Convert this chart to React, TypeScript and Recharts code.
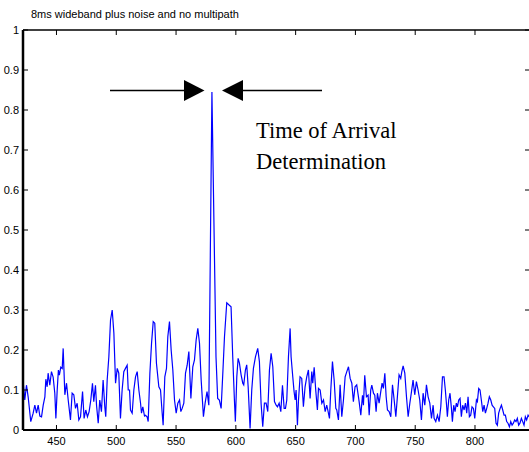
import React from 'react';
import { LineChart, Line, XAxis, YAxis } from 'recharts';

const title = '8ms wideband plus noise and no multipath';
const annotationLines = ['Time of Arrival', 'Determination'];

const xTicks = [450, 500, 550, 600, 650, 700, 750, 800];
const yTicks = [0, 0.1, 0.2, 0.3, 0.4, 0.5, 0.6, 0.7, 0.8, 0.9, 1];
const yTickLabels = ['0', '0.1', '0.2', '0.3', '0.4', '0.5', '0.6', '0.7', '0.8', '0.9', '1'];
const xDomain = [422, 846];
const yDomain = [0, 1];

const xs = [
  422.1, 423.5, 424.9, 426.3, 428.5, 430.5, 431.9, 433.3, 434.7, 436.1, 437.5, 438.9, 440.3, 441.1, 442.2, 443.0,
  444.4, 445.8, 447.2, 448.6, 449.5, 450.6, 451.6, 452.4, 453.6, 454.8, 455.6, 457.0, 458.4, 459.8, 461.7, 463.1,
  464.5, 465.9, 467.3, 468.7, 470.1, 471.8, 473.1, 474.5, 475.9, 477.3, 478.7, 480.1, 481.2, 482.6, 483.5, 484.9,
  486.2, 487.6, 489.0, 490.4, 491.2, 492.4, 493.8, 495.2, 496.6, 498.0, 499.4, 500.8, 502.1, 503.5, 504.9, 506.3,
  507.7, 509.1, 510.0, 511.1, 511.9, 513.3, 514.7, 516.1, 517.5, 518.9, 520.3, 521.1, 522.2, 523.6, 524.4, 525.8,
  526.7, 528.1, 529.5, 530.9, 532.2, 533.6, 535.6, 537.0, 538.4, 539.2, 540.6, 542.0, 543.1, 544.5, 545.9, 547.3,
  548.7, 550.1, 551.5, 552.9, 554.0, 555.1, 556.5, 557.9, 559.3, 560.7, 562.4, 564.0, 565.4, 566.8, 568.2, 569.6,
  571.0, 572.9, 574.3, 575.9, 577.4, 580.0, 583.4, 584.8, 586.2, 587.7, 589.1, 590.5, 592.4, 594.1, 596.0, 597.4,
  598.8, 599.6, 600.8, 601.9, 603.0, 604.4, 605.8, 606.6, 608.0, 609.1, 610.3, 611.9, 613.3, 614.7, 616.4, 618.3,
  619.7, 621.1, 622.5, 623.9, 625.3, 626.7, 628.1, 629.5, 630.9, 632.3, 633.7, 634.8, 636.2, 637.6, 639.0, 640.4,
  641.5, 642.6, 644.0, 645.4, 646.2, 647.6, 648.7, 649.6, 650.4, 651.5, 652.4, 653.7, 655.1, 656.5, 657.9, 659.3,
  660.7, 662.1, 663.5, 664.3, 665.5, 666.8, 668.2, 669.1, 670.5, 671.9, 673.3, 674.7, 676.0, 676.9, 678.3, 679.4,
  680.8, 682.2, 683.6, 684.4, 685.8, 687.2, 688.6, 690.0, 691.4, 692.8, 694.2, 695.6, 697.0, 698.3, 699.7, 701.1,
  703.1, 704.5, 705.9, 706.7, 707.8, 709.2, 710.6, 711.5, 712.8, 713.7, 715.1, 716.2, 717.3, 718.4, 719.8, 721.2,
  722.3, 723.4, 724.6, 725.7, 726.8, 728.2, 729.6, 731.0, 732.4, 733.8, 735.1, 736.5, 737.9, 738.8, 739.9, 741.3,
  742.7, 744.1, 745.5, 746.9, 748.2, 749.6, 751.0, 752.4, 753.8, 755.2, 756.6, 758.0, 759.4, 760.8, 762.2, 763.6,
  765.0, 765.8, 767.2, 768.6, 770.0, 771.4, 772.8, 774.1, 775.2, 776.1, 776.9, 778.0, 779.1, 780.3, 781.1, 782.2,
  783.3, 784.4, 785.3, 786.4, 787.5, 788.6, 789.7, 790.9, 792.0, 793.1, 794.2, 795.3, 796.4, 797.5, 798.7, 799.8,
  801.2, 802.0, 803.1, 804.2, 805.3, 806.5, 807.6, 808.7, 809.8, 810.9, 812.0, 813.2, 814.3, 815.4, 816.5, 817.6,
  818.7, 819.8, 821.0, 822.1, 823.2, 824.3, 825.4, 826.5, 827.6, 828.8, 829.9, 831.0, 832.1, 833.2, 834.3, 835.4,
  836.5, 837.6, 838.8, 839.9, 841.0, 842.1, 843.2, 844.4, 846.0,
];

const ys = [
  0.121, 0.075, 0.112, 0.083, 0.021, 0.042, 0.062, 0.042, 0.062, 0.035, 0.033, 0.062, 0.083, 0.127, 0.108, 0.142,
  0.112, 0.146, 0.132, 0.092, 0.029, 0.1, 0.15, 0.137, 0.157, 0.154, 0.204, 0.088, 0.117, 0.075, 0.025, 0.092,
  0.088, 0.054, 0.067, 0.025, 0.033, 0.096, 0.029, 0.05, 0.033, 0.046, 0.075, 0.117, 0.071, 0.112, 0.062, 0.017,
  0.075, 0.046, 0.125, 0.058, 0.033, 0.125, 0.183, 0.275, 0.3, 0.242, 0.117, 0.154, 0.142, 0.029, 0.1, 0.146,
  0.154, 0.162, 0.1, 0.1, 0.05, 0.042, 0.1, 0.133, 0.146, 0.1, 0.067, 0.042, 0.058, 0.035, 0.037, 0.033,
  0.021, 0.142, 0.217, 0.271, 0.267, 0.167, 0.108, 0.1, 0.042, 0.012, 0.133, 0.154, 0.233, 0.271, 0.2, 0.15,
  0.075, 0.042, 0.067, 0.075, 0.046, 0.054, 0.067, 0.142, 0.162, 0.196, 0.079, 0.158, 0.175, 0.225, 0.254, 0.217,
  0.125, 0.033, 0.067, 0.096, 0.062, 0.845, 0.183, 0.079, 0.075, 0.054, 0.142, 0.233, 0.318, 0.313, 0.308, 0.183,
  0.075, 0.021, 0.133, 0.179, 0.167, 0.138, 0.117, 0.113, 0.15, 0.163, 0.108, 0.004, 0.1, 0.154, 0.183, 0.204,
  0.171, 0.067, 0.008, 0.067, 0.067, 0.046, 0.15, 0.192, 0.158, 0.071, 0.062, 0.058, 0.067, 0.046, 0.112, 0.054,
  0.054, 0.075, 0.183, 0.254, 0.183, 0.133, 0.096, 0.075, 0.1, 0.012, 0.075, 0.133, 0.129, 0.058, 0.108, 0.133,
  0.15, 0.079, 0.146, 0.117, 0.157, 0.1, 0.05, 0.104, 0.1, 0.067, 0.075, 0.046, 0.062, 0.05, 0.029, 0.1,
  0.171, 0.125, 0.054, 0.05, 0.025, 0.113, 0.033, 0.075, 0.133, 0.146, 0.158, 0.129, 0.117, 0.071, 0.108, 0.113,
  0.071, 0.037, 0.087, 0.062, 0.137, 0.083, 0.087, 0.037, 0.1, 0.112, 0.092, 0.087, 0.046, 0.092, 0.067, 0.096,
  0.117, 0.104, 0.142, 0.083, 0.05, 0.046, 0.033, 0.113, 0.075, 0.033, 0.083, 0.138, 0.129, 0.146, 0.16, 0.142,
  0.083, 0.033, 0.067, 0.096, 0.125, 0.088, 0.121, 0.1, 0.075, 0.025, 0.092, 0.062, 0.113, 0.083, 0.067, 0.029,
  0.062, 0.029, 0.021, 0.037, 0.021, 0.058, 0.133, 0.133, 0.1, 0.067, 0.033, 0.075, 0.092, 0.054, 0.021, 0.062,
  0.046, 0.067, 0.058, 0.075, 0.079, 0.033, 0.062, 0.05, 0.067, 0.042, 0.083, 0.033, 0.037, 0.058, 0.054, 0.029,
  0.075, 0.071, 0.104, 0.1, 0.075, 0.046, 0.062, 0.042, 0.054, 0.067, 0.083, 0.075, 0.062, 0.058, 0.054, 0.017,
  0.012, 0.042, 0.054, 0.062, 0.05, 0.037, 0.037, 0.021, 0.017, 0.008, 0.021, 0.012, 0.017, 0.025, 0.021, 0.029,
  0.012, 0.017, 0.029, 0.021, 0.012, 0.033, 0.025, 0.037, 0.03,
];

const data = xs.map((x, i) => ({ x, y: ys[i] }));

const FONT = '"Liberation Sans", Arial, Helvetica, sans-serif';
const SERIF = '"Liberation Serif", "Times New Roman", serif';
const TICK_LEN = 5;

const LeftTick = (props: any) => {
  const { x, y, payload } = props;
  const idx = yTicks.indexOf(payload.value);
  const label = idx >= 0 ? yTickLabels[idx] : String(payload.value);
  return (
    <g>
      <line x1={x} x2={x + TICK_LEN} y1={y} y2={y} stroke="#000" strokeWidth={1} />
      <text x={x - 4} y={y} dy="0.35em" textAnchor="end" fontSize={11} fontFamily={FONT} fill="#000">
        {label}
      </text>
    </g>
  );
};

const RightTick = (props: any) => {
  const { x, y } = props;
  return <line x1={x} x2={x - TICK_LEN} y1={y} y2={y} stroke="#000" strokeWidth={1} />;
};

const BottomTick = (props: any) => {
  const { x, y, payload } = props;
  return (
    <g>
      <line x1={x} x2={x} y1={y} y2={y - TICK_LEN} stroke="#000" strokeWidth={1} />
      <text x={x} y={y + 15} textAnchor="middle" fontSize={11} fontFamily={FONT} fill="#000">
        {String(payload.value)}
      </text>
    </g>
  );
};

const TopTick = (props: any) => {
  const { x, y } = props;
  return <line x1={x} x2={x} y1={y} y2={y + TICK_LEN} stroke="#000" strokeWidth={1} />;
};

export default function App() {
  return (
    <div style={{ position: 'absolute', left: 0, top: 0, width: 529, height: 452, overflow: 'hidden', background: '#fff' }}>
      <LineChart width={540} height={452} data={data} margin={{ top: 29, right: 9, bottom: 0, left: 0 }}>
        <XAxis
          xAxisId="b"
          dataKey="x"
          type="number"
          domain={xDomain}
          ticks={xTicks}
          interval={0}
          allowDataOverflow
          height={22}
          tickSize={0}
          tickMargin={0}
          tick={<BottomTick />}
          tickLine={false}
          axisLine={{ stroke: '#000', strokeWidth: 2 }}
        />
        <XAxis
          xAxisId="t"
          orientation="top"
          dataKey="x"
          type="number"
          domain={xDomain}
          ticks={xTicks}
          interval={0}
          allowDataOverflow
          height={1}
          tickSize={0}
          tickMargin={0}
          tick={<TopTick />}
          tickLine={false}
          axisLine={{ stroke: '#000', strokeWidth: 1.5 }}
        />
        <YAxis
          yAxisId="l"
          type="number"
          domain={yDomain}
          ticks={yTicks}
          interval={0}
          allowDataOverflow
          width={23}
          tickSize={0}
          tickMargin={0}
          tick={<LeftTick />}
          tickLine={false}
          axisLine={{ stroke: '#000', strokeWidth: 2.5 }}
        />
        <YAxis
          yAxisId="r"
          orientation="right"
          type="number"
          domain={yDomain}
          ticks={yTicks}
          interval={0}
          allowDataOverflow
          width={1}
          tickSize={0}
          tickMargin={0}
          tick={<RightTick />}
          tickLine={false}
          axisLine={{ stroke: '#000', strokeWidth: 1.5 }}
        />
        <Line
          xAxisId="b"
          yAxisId="l"
          type="linear"
          dataKey="y"
          stroke="#0000ff"
          strokeWidth={1.2}
          dot={false}
          isAnimationActive={false}
        />
        <Line
          xAxisId="t"
          yAxisId="r"
          type="linear"
          dataKey="y"
          stroke="none"
          strokeWidth={0}
          dot={false}
          legendType="none"
          isAnimationActive={false}
        />
      </LineChart>
      <svg
        width={529}
        height={452}
        style={{ position: 'absolute', left: 0, top: 0, pointerEvents: 'none' }}
      >
        <text x={31} y={18} fontSize={11} fontFamily={FONT} fill="#000">
          {title}
        </text>
        <line x1={110} y1={90.5} x2={185} y2={90.5} stroke="#000" strokeWidth={1.5} />
        <polygon points="184,80 204.5,90.5 184,101" fill="#000" />
        <polygon points="222,90.5 243,80 243,101" fill="#000" />
        <line x1={242} y1={90.5} x2={322} y2={90.5} stroke="#000" strokeWidth={1.5} />
        <text x={256} y={138} fontSize={22.5} fontFamily={SERIF} fill="#000">
          {annotationLines[0]}
        </text>
        <text x={256} y={169} fontSize={22.5} fontFamily={SERIF} fill="#000">
          {annotationLines[1]}
        </text>
      </svg>
    </div>
  );
}
